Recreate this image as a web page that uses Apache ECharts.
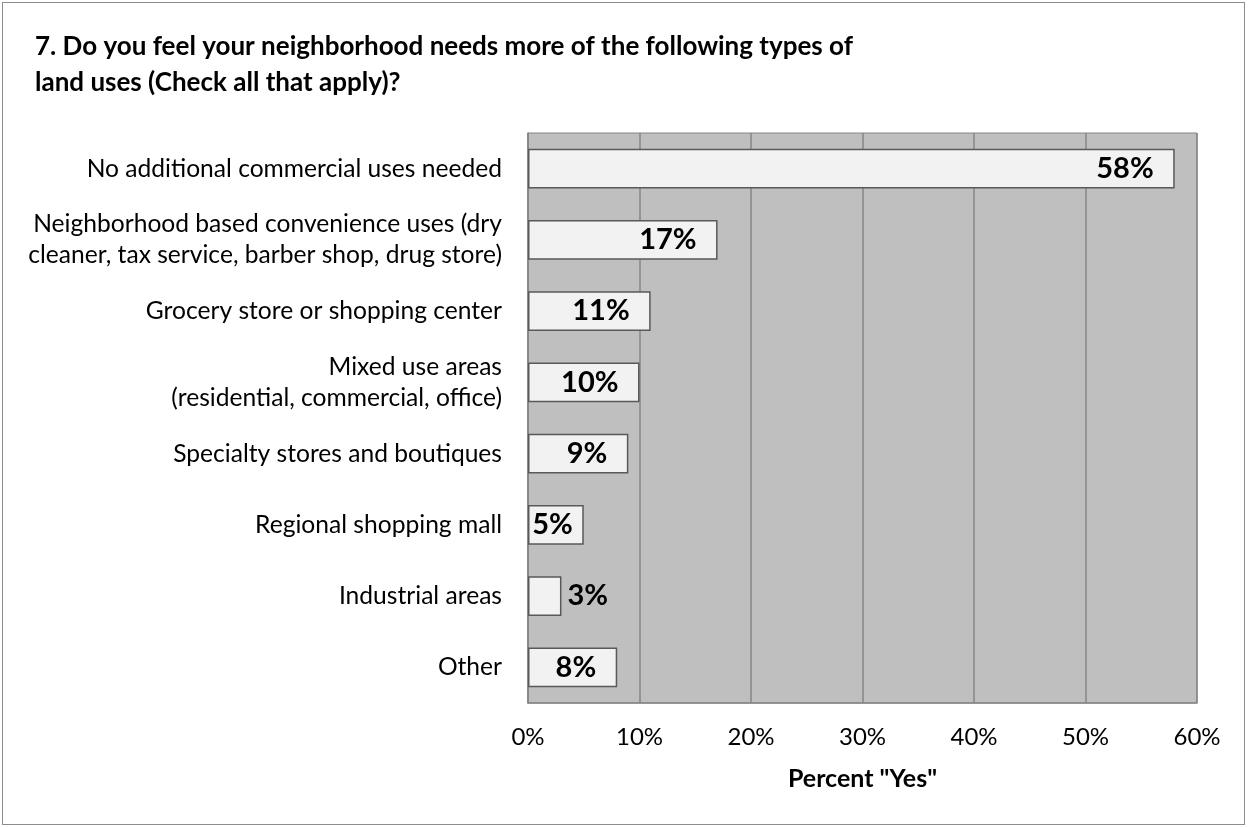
<!DOCTYPE html>
<html>
<head>
<meta charset="utf-8">
<script src="https://cdn.jsdelivr.net/npm/echarts@6/dist/echarts.min.js"></script>
<style>
  html, body { margin: 0; padding: 0; background: #fff; }
  #chart { width: 1248px; height: 827px; }
  #frame { position: absolute; left: 2px; top: 2px; width: 1243px; height: 823px; border: 1px solid #8c8c8c; box-sizing: border-box; pointer-events: none; }
</style>
</head>
<body>
<div id="chart"></div>
<div id="frame"></div>
<script>
// Survey question 7: share of respondents answering "Yes" for each land use
const categories = [
  'No additional commercial uses needed',
  'Neighborhood based convenience uses (dry\ncleaner, tax service, barber shop, drug store)',
  'Grocery store or shopping center',
  'Mixed use areas\n(residential, commercial, office)',
  'Specialty stores and boutiques',
  'Regional shopping mall',
  'Industrial areas',
  'Other'
];
const percentYes = [58, 17, 11, 10, 9, 5, 3, 8];
const axisTicks = [0, 10, 20, 30, 40, 50, 60];

const FONT = 'Lato, "Open Sans", sans-serif';

const chart = echarts.init(document.getElementById('chart'), null, { renderer: 'canvas' });

// Labels sit inside the bar end; bars too short for the text put it just outside.
const barData = percentYes.map(v => ({
  value: v,
  label: v < 5
    ? { position: 'right', distance: 6 }
    : { position: 'insideRight', offset: [v <= 5 ? -6 : -16, 0] }
}));

chart.setOption({
  animation: false,
  backgroundColor: '#ffffff',
  title: {
    text: '7. Do you feel your neighborhood needs more of the following types of\nland uses (Check all that apply)?',
    left: 30,
    top: 24,
    textStyle: {
      fontFamily: FONT,
      fontWeight: 'bold',
      fontSize: 26,
      lineHeight: 36,
      color: '#000'
    }
  },
  grid: {
    left: 528,
    right: 51,
    top: 133,
    bottom: 124,
    show: true,
    backgroundColor: '#bfbfbf',
    borderColor: '#868686',
    borderWidth: 1
  },
  xAxis: {
    type: 'value',
    min: axisTicks[0],
    max: axisTicks[axisTicks.length - 1],
    interval: 10,
    name: 'Percent "Yes"',
    nameLocation: 'middle',
    nameGap: 63,
    nameTextStyle: { fontFamily: FONT, fontWeight: 'bold', fontSize: 25, color: '#000' },
    axisLine: { show: true, lineStyle: { color: '#868686', width: 1.5 } },
    axisTick: { show: false },
    axisLabel: {
      formatter: '{value}%',
      fontFamily: FONT,
      fontSize: 24,
      color: '#000',
      margin: 22
    },
    splitLine: { show: true, lineStyle: { color: '#868686', width: 1.5 } }
  },
  yAxis: {
    type: 'category',
    data: categories,
    inverse: true,
    axisLine: { show: true, lineStyle: { color: '#868686', width: 1.5 } },
    axisTick: { show: false },
    axisLabel: {
      fontFamily: FONT,
      fontSize: 24.6,
      color: '#000',
      align: 'right',
      lineHeight: 31,
      margin: 26
    },
    splitLine: { show: false }
  },
  series: [{
    type: 'bar',
    data: barData,
    barCategoryGap: '44%',
    itemStyle: {
      color: '#f2f2f2',
      borderColor: '#595959',
      borderWidth: 1.5
    },
    label: {
      show: true,
      formatter: '{c}%',
      fontFamily: FONT,
      fontWeight: 'bold',
      fontSize: 29,
      color: '#000'
    }
  }]
});
</script>
</body>
</html>
